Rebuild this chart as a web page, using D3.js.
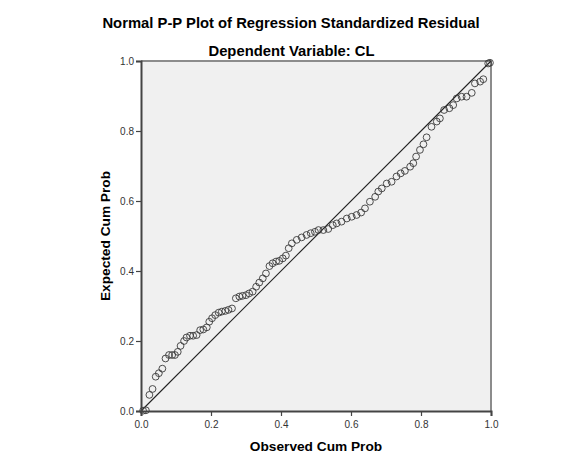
<!DOCTYPE html>
<html>
<head>
<meta charset="utf-8">
<script src="https://cdn.jsdelivr.net/npm/d3@7"></script>
<style>
  body { margin:0; background:#fff; }
  text { font-family: Arial, "Liberation Sans", sans-serif; }
</style>
</head>
<body>
<script>
// observed cum prob (x) and expected cum prob (y)
var observed = [0.006,0.014,0.024,0.033,0.042,0.051,0.061,0.070,0.080,0.089,
  0.097,0.105,0.113,0.123,0.130,0.140,0.149,0.159,0.169,0.178,
  0.188,0.195,0.203,0.212,0.222,0.231,0.241,0.250,0.260,0.271,
  0.281,0.290,0.300,0.309,0.319,0.329,0.338,0.348,0.357,0.367,
  0.376,0.386,0.395,0.405,0.414,0.422,0.431,0.445,0.459,0.473,
  0.485,0.497,0.507,0.521,0.535,0.548,0.559,0.573,0.588,0.602,
  0.616,0.629,0.640,0.654,0.669,0.678,0.688,0.702,0.716,0.730,
  0.742,0.754,0.769,0.778,0.786,0.797,0.807,0.816,0.830,0.845,
  0.854,0.866,0.881,0.892,0.902,0.916,0.930,0.945,0.954,0.969,
  0.978,0.992,0.997];
var expected = [0.001,0.002,0.046,0.063,0.098,0.108,0.121,0.150,0.160,0.160,
  0.160,0.169,0.186,0.200,0.210,0.215,0.215,0.217,0.231,0.233,
  0.239,0.255,0.265,0.274,0.281,0.284,0.286,0.289,0.293,0.322,
  0.327,0.329,0.331,0.336,0.341,0.355,0.367,0.379,0.393,0.414,
  0.422,0.427,0.429,0.436,0.444,0.465,0.479,0.489,0.496,0.503,
  0.508,0.512,0.517,0.517,0.520,0.531,0.536,0.541,0.550,0.555,
  0.560,0.567,0.579,0.598,0.612,0.627,0.636,0.650,0.655,0.670,
  0.679,0.686,0.698,0.708,0.727,0.746,0.762,0.782,0.812,0.827,
  0.836,0.860,0.865,0.874,0.893,0.898,0.898,0.909,0.936,0.941,
  0.948,0.993,0.995];
var tickVals = [0,0.2,0.4,0.6,0.8,1.0];
var refLine = [0,1];

var W = 583, H = 467;
var plotLeft = 141, plotTop = 61, plotSize = 350;

var svg = d3.select('body').append('svg').attr('width',W).attr('height',H);

var x = d3.scaleLinear().domain([0,1]).range([plotLeft,plotLeft+plotSize]);
var y = d3.scaleLinear().domain([0,1]).range([plotTop+plotSize,plotTop]);

// titles
svg.append('text').attr('x',291).attr('y',28).attr('text-anchor','middle')
  .style('font-size','14.8px').style('font-weight','bold')
  .text('Normal P-P Plot of Regression Standardized Residual');
svg.append('text').attr('x',291.5).attr('y',56).attr('text-anchor','middle')
  .style('font-size','14.8px').style('font-weight','bold')
  .text('Dependent Variable: CL');

// plot background + frame
svg.append('rect').attr('x',plotLeft).attr('y',plotTop).attr('width',plotSize).attr('height',plotSize)
  .style('fill','#f0f0f0');
svg.append('path')
  .attr('d','M'+x(0)+','+y(1)+'H'+x(1)+'V'+y(0))
  .style('fill','none').style('stroke','#8c8c8c').style('stroke-width',2);

// reference diagonal
svg.append('line')
  .attr('x1',x(refLine[0])).attr('y1',y(refLine[0]))
  .attr('x2',x(refLine[1])).attr('y2',y(refLine[1]))
  .style('stroke','#222').style('stroke-width',1.1);

// points
svg.append('g').selectAll('circle').data(observed).enter().append('circle')
  .attr('cx',function(d){ return x(d); })
  .attr('cy',function(d,i){ return y(expected[i]); })
  .attr('r',3.4)
  .style('fill','none').style('stroke','#3a3a3a').style('stroke-width',0.9);

// axes
var fmt = d3.format('.1f');
var xAxis = svg.append('g').attr('transform','translate(0,'+(plotTop+plotSize)+')')
  .call(d3.axisBottom(x).tickValues(tickVals).tickFormat(fmt).tickSize(5).tickPadding(5));
var yAxis = svg.append('g').attr('transform','translate('+plotLeft+',0)')
  .call(d3.axisLeft(y).tickValues(tickVals).tickFormat(fmt).tickSize(5).tickPadding(2));

[xAxis,yAxis].forEach(function(a){
  a.select('.domain').style('stroke','#444').style('stroke-width',2);
  a.selectAll('.tick line').style('stroke','#444').style('stroke-width',1.2);
  a.selectAll('.tick text').style('font-size','10px').style('fill','#333')
    .style('font-family','Arial, "Liberation Sans", sans-serif');
});

// axis titles
svg.append('text').attr('x',plotLeft+plotSize/2).attr('y',451).attr('text-anchor','middle')
  .style('font-size','13.7px').style('font-weight','bold')
  .text('Observed Cum Prob');
svg.append('text').attr('transform','translate(110,'+(plotTop+plotSize/2)+') rotate(-90)')
  .attr('text-anchor','middle')
  .style('font-size','13.7px').style('font-weight','bold')
  .text('Expected Cum Prob');
</script>
</body>
</html>
